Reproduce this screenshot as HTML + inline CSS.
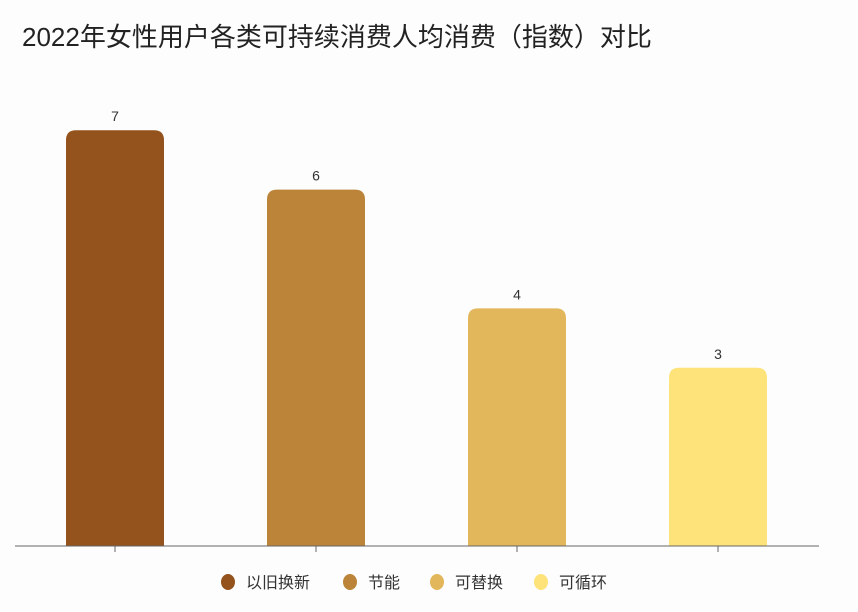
<!DOCTYPE html>
<html><head><meta charset="utf-8"><style>
body{margin:0;background:#fff;}
svg{display:block;font-family:"Liberation Sans","Noto Sans CJK SC",sans-serif;}
</style></head><body>
<svg width="858" height="612" viewBox="0 0 858 612">
<rect x="0" y="0" width="858" height="612" fill="#fdfdfd"/>
<text x="22" y="46" font-size="26" fill="#222">2022年女性用户各类可持续消费人均消费（指数）对比</text>
<g id="bars"></g>
<line x1="15" y1="546" x2="819" y2="546" stroke="#666" stroke-width="1"/>
<g id="ticks"></g>
<g id="legend"></g>
</svg>
<script>
const categories=["以旧换新","节能","可替换","可循环"];
const values=[7,6,4,3];
const colors=["#94521c","#bc8438","#e2b65a","#fde37a"];
const NS="http://www.w3.org/2000/svg";
const baseY=546, pxPerUnit=59.4, x0=66, step=201, bw=98;
const y=v=>baseY-v*pxPerUnit;
const xs=i=>x0+i*step;
const bars=document.getElementById('bars'),ticks=document.getElementById('ticks'),legend=document.getElementById('legend');
values.forEach((v,i)=>{
  const p=document.createElementNS(NS,'path');
  const x=xs(i),t=y(v),r=10;
  p.setAttribute('d',`M${x},${baseY}V${t+r}Q${x},${t} ${x+r},${t}H${x+bw-r}Q${x+bw},${t} ${x+bw},${t+r}V${baseY}Z`);
  p.setAttribute('fill',colors[i]);
  
  
  bars.appendChild(p);
  const tx=document.createElementNS(NS,'text');
  tx.setAttribute('x',x+bw/2);tx.setAttribute('y',t-9);
  tx.setAttribute('text-anchor','middle');tx.setAttribute('font-size','14');tx.setAttribute('fill','#333');
  tx.textContent=v;
  
  
  bars.appendChild(tx);
  const tk=document.createElementNS(NS,'line');
  tk.setAttribute('x1',x+bw/2);tk.setAttribute('x2',x+bw/2);tk.setAttribute('y1',546);tk.setAttribute('y2',552);
  tk.setAttribute('stroke','#666');
  
  
  ticks.appendChild(tk);
});
const legX=[228,350,437,541];
categories.forEach((c,i)=>{
  const g=document.createElementNS(NS,'g');
  
  
  const e=document.createElementNS(NS,'ellipse');
  e.setAttribute('cx',legX[i]);e.setAttribute('cy',582);e.setAttribute('rx',7);e.setAttribute('ry',8);
  e.setAttribute('fill',colors[i]);
  
  
  g.appendChild(e);
  const t=document.createElementNS(NS,'text');
  t.setAttribute('x',legX[i]+18);t.setAttribute('y',588);t.setAttribute('font-size','16');t.setAttribute('fill','#333');
  t.textContent=c;
  
  
  g.appendChild(t);
  legend.appendChild(g);
});
</script>
</body></html>
